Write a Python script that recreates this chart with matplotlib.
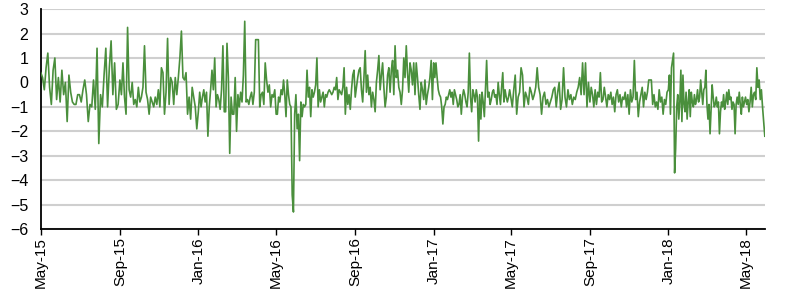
import numpy as np
import pandas as pd
import matplotlib
matplotlib.use("Agg")
import matplotlib.pyplot as plt
import matplotlib.dates as mdates

plt.rcParams['font.family'] = ['Liberation Sans', 'DejaVu Sans']

# Block boundaries (tick dates) and values
tick_dates = ["2015-05-01", "2015-09-01", "2016-01-01", "2016-05-01", "2016-09-01",
              "2017-01-01", "2017-05-01", "2017-09-01", "2018-01-01", "2018-05-01"]
tick_labels = ["May-15", "Sep-15", "Jan-16", "May-16", "Sep-16",
               "Jan-17", "May-17", "Sep-17", "Jan-18", "May-18"]
end_date = "2018-05-31"

blk_may15 = [0.4, 0.2, -0.3, 0.6, 1.2, -0.2, -0.9, 0.5, 1.0, -0.7, 0.2, -0.8, 0.5, -0.5, 0.0,
             -1.6, 0.3, -0.4, -0.8, -0.9, -0.9, -0.5, -0.5, -0.8, -0.3, 0.1, -0.5, -1.6, -0.9,
             -1.0, 0.1, -1.1, 1.4, -2.5, -0.5, -1.0, 0.3, 1.4, -1.0, 0.6, 1.7, -0.5, 0.8, -1.1, -0.9]
blk_sep15 = [0.1, -0.5, 0.8, -0.6, -1.3, 2.25, -0.3, -0.6, 0.0, -0.9, -0.7, -1.0, -0.2, -0.8,
             -0.6, -0.2, 1.5, -0.4, -0.7, -1.3, -0.6, -0.8, -1.0, -0.6, -0.9, -0.3, -1.0, 0.6,
             0.4, -1.3, -0.4, 1.8, -0.9, 0.2, 0.0, -0.9, 0.2, -0.5, 0.2, 1.0, 2.1, 0.2, 0.1, 0.4,
             -1.3, -0.6, -1.5, -0.2, -0.6, -1.0, -1.9]
blk_jan16 = [-1.2, -0.4, -1.0, -0.6, -0.3, -0.8, -0.4, -2.2, -1.0, -0.3, 0.5, -0.3,
             1.0, -1.0, -0.5, -0.7, -1.1, -0.3, 1.5, -1.2, -1.2, 1.6, 0.2, -2.9, -0.6, -1.3,
             -1.3, 0.2, -2.0, -0.5, -1.0, -0.4, -0.8, 0.3, 2.5, -0.8, -0.7, -0.9, -0.6, -0.4,
             -0.9, -0.4, 1.75, 1.75, 1.75, -1.0, -0.5, -0.4, -0.9, 0.8, 0.1, -0.4, -0.1, -1.0,
             -0.5, -0.6, -0.3]
blk_may16 = [-1.3, -1.3, -0.6, -0.8, -0.3, -0.5, 0.1, -0.5, -1.4, 0.1, -0.5, -0.9, -1.0,
             -4.6, -5.3, -1.3, -0.5, -1.9, -1.3, -3.2, -0.8, -1.4, -0.9, -1.0, -0.9, 0.5, -0.6,
             -0.2, -1.4, -0.3, -0.6, -0.4, -0.1, 1.0, -1.0, -0.3, -0.8, -0.6, -0.4, -1.0, -0.5,
             -0.6, -0.4, -0.3, -0.4, -0.5, -0.4, -0.2, -0.3, 0.2, -0.7, -0.3, -0.4, -0.5, -0.2,
             0.6, -1.3, -0.2, -0.9, -0.5, -1.1, -0.3, 0.3, 0.5]
blk_sep16 = [-0.6, -0.2, 0.2, 0.5, 0.6, -0.3, -0.8, 0.2, 1.3, -0.4, 0.3, -0.5, -0.2, -1.0,
             -0.4, -0.7, -1.2, 0.0, 0.5, 1.1, -0.3, 0.3, 0.8, -0.2, -1.0, -0.6, 0.3, 0.6, -0.4,
             0.5, 0.9, -0.5, 1.5, 0.2, 0.5, -0.2, -0.4, -0.9,
             -0.3, 1.0, 0.2, 1.5, 0.4, -0.4, 0.8, 0.5, -0.1, 0.8, -0.5, 0.8, 0.2, -0.5, -1.1,
             0.0, -0.3, -0.7, 0.1, -0.9, -0.5, -0.2, 0.2, 0.9, -0.7]
blk_jan17 = [0.8, 0.2, 0.8, 0.2, -0.3, -0.5, -0.6, -1.0, -1.7, -1.0, -0.9, -0.6, -0.7, -0.5,
             -0.3, -0.6, -0.4, -0.9, -0.3, -0.5, -0.7, -1.0, -0.9, -0.5, -1.3, -0.6, -0.3, -0.5,
             -0.8, -1.0, -0.4, 1.2, -0.6, -1.2, -0.3, -0.5, -0.8, -0.3, -0.6, -2.4, -0.5, -1.5,
             -0.4, -0.8, -1.4, -0.3, 0.9, -0.6, -0.4, -0.9, -0.7, -0.4, -0.3, -0.6,
             -0.5, -0.9, 0.0, -0.5, -0.9, -0.2, 0.4, -0.8, -0.3, -0.6, -0.8, -0.6, -0.3]
blk_may17 = [-0.6, -1.0, -0.3, 0.3, -1.3, -0.6, -0.4, 0.6, 0.3, -1.0, -0.4, -0.6, -0.9, -0.2,
             -0.4, -0.7, -0.5, -0.2, 0.6, -0.2, -0.5, -1.3, -0.6, -0.4, -0.9, -0.7, -1.0, -0.8,
             -0.6, -0.3, -0.2, -1.0, -0.4, 0.0, -1.1, -0.7, 0.6, -0.6, -1.0, -0.3, -0.7, -0.5,
             -0.9, -0.6, -0.7, -0.4, -0.2, 0.2, -0.5, 0.8, -0.5, 0.8, -1.0, 0.0]
blk_sep17 = [-0.8, -0.2, -0.5, -1.0, -0.3, -0.9, -0.4, -0.6, 0.4, -0.8, -0.7, -0.2, -0.6, -1.0,
             -0.5, -0.7, -0.4, -0.9, -0.6, -1.2, -0.5, -0.3, -0.8, -0.5, -1.0, -0.6, -0.7, -0.4,
             -1.0, -0.5, -1.3, -0.3, -0.8, -0.6, 0.9, -0.7, -0.4, -1.4, -0.8, -0.5, -0.2, -1.0,
             -0.4, -0.7, -0.4, 0.1, 0.1, 0.1, -0.9, -0.5, -1.0, -0.8, -1.1, -0.3, -0.8, -0.6,
             -1.3, -0.7, -0.9, -0.4]
blk_jan18 = [-0.3, 0.3, -1.3, 0.6, 0.9, 1.2, -3.7, -2.7, -1.0, -0.5, -1.5, -0.8, 0.5, -1.6,
             0.3, -0.9, -1.2, -0.4, -1.5, -0.8, -0.3, -1.4, -0.4, -0.8, -1.0, -0.5, -0.9, -0.7,
             -0.3, -0.8, -0.6, 0.1, -0.4, -0.9, -0.3, -0.2, 0.5, -0.9, -1.5, -0.9, -2.1, -1.1,
             -0.1, -0.6, -1.0, -0.9, -0.6, -1.0, -0.8, -2.1, -1.2, -0.8, -1.0, -0.5, -1.1, -0.8,
             -0.4, -0.9, -0.3, -0.7, -0.6, -1.1, -0.8, -0.9, -2.1, -0.9, -0.6, -0.9, -0.4, -0.9,
             -1.3, -0.6, -1.0, -0.8]
blk_may18 = [-0.6, -0.9, -0.7, -1.2, -0.8, -0.2, -1.0, -0.5, -0.4, -0.7, 0.6, -0.2, 0.1,
             -0.7, -0.3, -1.0, -1.6, -2.2]

blocks = [blk_may15, blk_sep15, blk_jan16, blk_may16, blk_sep16,
          blk_jan17, blk_may17, blk_sep17, blk_jan18, blk_may18]

bounds = [pd.Timestamp(d) for d in tick_dates] + [pd.Timestamp(end_date)]
dates = []
values = []
for i, blk in enumerate(blocks):
    last = (i == len(blocks) - 1)
    n = len(blk)
    if last:
        rng = pd.date_range(bounds[i], bounds[i + 1], periods=n)
    else:
        rng = pd.date_range(bounds[i], bounds[i + 1], periods=n + 1)[:-1]
    dates.extend(list(rng))
    values.extend(blk)

fig = plt.figure(figsize=(8.0, 2.93), dpi=100)
ax = fig.add_axes([0.051, 0.218, 0.905, 0.751])

ax.plot(dates, values, color='#4a8f3c', linewidth=1.2, zorder=3)

ax.set_ylim(-6, 3)
ax.set_yticks(range(-6, 4))
ax.set_xlim(pd.Timestamp(tick_dates[0]), pd.Timestamp(end_date))
ax.set_xticks([pd.Timestamp(d) for d in tick_dates])
ax.set_xticklabels(tick_labels, rotation=90, fontsize=11)
for lbl in ax.get_yticklabels():
    lbl.set_fontsize(11.5)

ax.grid(axis='y', color='#cfcfcf', linewidth=1.5, zorder=0)
ax.set_axisbelow(True)
for s in ['top', 'right']:
    ax.spines[s].set_visible(False)
ax.spines['left'].set_color('black')
ax.spines['bottom'].set_color('black')
ax.spines['left'].set_linewidth(1.3)
ax.spines['bottom'].set_linewidth(1.3)
ax.tick_params(axis='y', length=0, pad=9)
ax.tick_params(axis='x', length=4, width=1, pad=2, direction='out')

fig.savefig('out.png', dpi=100)
